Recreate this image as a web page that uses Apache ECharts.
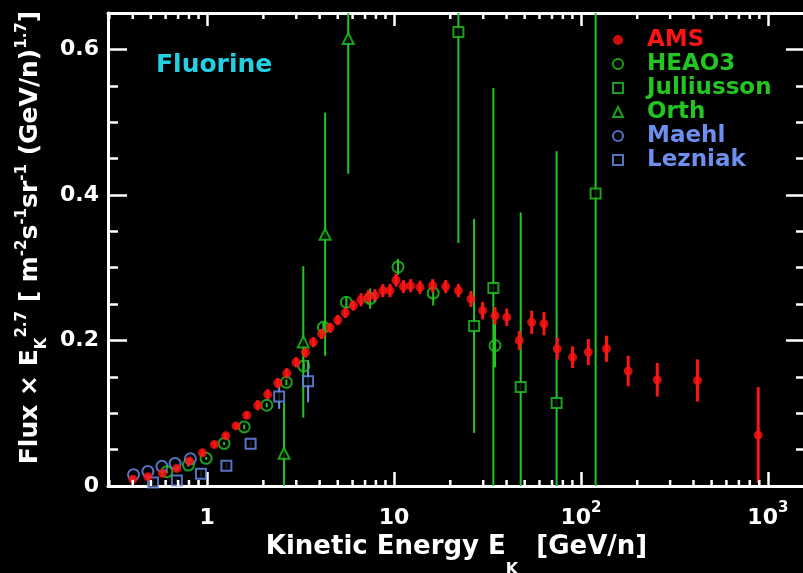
<!DOCTYPE html>
<html>
<head>
<meta charset="utf-8">
<script src="https://cdn.jsdelivr.net/npm/echarts@6/dist/echarts.min.js"></script>
<style>html,body{margin:0;padding:0;background:#000;}#c{width:803px;height:573px;}</style>
</head>
<body>
<div id="c"></div>
<script>
// ---- data (E in GeV/n, flux x E^2.7) ----
const amsE = [0.401,0.482,0.577,0.689,0.804,0.944,1.094,1.259,1.429,1.63,1.867,2.11,2.39,2.67,2.99,3.36,3.70,4.10,4.55,5.00,5.49,6.06,6.66,7.29,7.91,8.71,9.52,10.25,11.22,12.28,13.77,16.1,18.9,22.1,25.8,29.8,34.7,40.1,46.8,54.5,63.4,74.7,90.2,109.5,137,179,256,420,888];
const amsF = [0.0092,0.0127,0.0174,0.0242,0.0342,0.0456,0.0571,0.0689,0.0826,0.0973,0.111,0.126,0.1415,0.155,0.170,0.1836,0.1977,0.209,0.2174,0.228,0.238,0.248,0.256,0.2605,0.2616,0.2685,0.2685,0.283,0.274,0.2753,0.273,0.2753,0.274,0.2685,0.257,0.241,0.234,0.232,0.200,0.225,0.223,0.1886,0.177,0.184,0.1886,0.158,0.146,0.145,0.070];
const amsErr = [0.004,0.004,0.004,0.004,0.004,0.004,0.004,0.004,0.004,0.004,0.007,0.007,0.007,0.007,0.007,0.007,0.007,0.007,0.007,0.007,0.007,0.007,0.009,0.009,0.009,0.009,0.009,0.009,0.009,0.009,0.009,0.009,0.009,0.009,0.011,0.012,0.012,0.012,0.013,0.016,0.016,0.015,0.015,0.018,0.018,0.021,0.023,0.029,0.066];

const heaoE = [0.609,0.794,0.988,1.233,1.58,2.085,2.655,3.29,4.19,5.56,7.45,10.5,16.2,34.7];
const heaoF = [0.0196,0.0288,0.038,0.0585,0.0812,0.111,0.1425,0.165,0.218,0.2525,0.2575,0.301,0.265,0.193];
const heaoErr = [0.002,0.002,0.002,0.002,0.003,0.003,0.004,0.005,0.008,0.008,0.014,0.011,0.017,0.03];

const julE = [22.1,26.8,34.0,47.6,74.1,119.8];
const julF = [0.624,0.22,0.272,0.136,0.114,0.402];
const julErr = [0.29,0.147,0.275,0.24,0.346,0.5];

const orthE = [2.58,3.27,4.28,5.69];
const orthF = [0.045,0.198,0.346,0.615];
const orthErr = [0.07,0.104,0.167,0.186];

const maehlE = [0.404,0.482,0.573,0.674,0.814];
const maehlF = [0.0155,0.020,0.027,0.031,0.0374];

const lezE = [0.514,0.689,0.927,1.268,1.709,2.43,3.47];
const lezF = [0.0048,0.0075,0.0168,0.0278,0.058,0.123,0.144];
const lezErr = [0.003,0.003,0.006,0.004,0.004,0.017,0.029];

const xMinorTicks = [0.3,0.4,0.5,0.6,0.7,0.8,0.9,2,3,4,5,6,7,8,9,20,30,40,50,60,70,80,90,200,300,400,500,600,700,800,900];
const xTickLabels = {1:'{a|1}', 10:'{a|10}', 100:'{a|10}{s|2}', 1000:'{a|10}{s|3}'};
const yTickLabels = {0:'0', 0.2:'0.2', 0.4:'0.4', 0.6:'0.6'};

// ---- styling ----
const FONT = 'DejaVu Sans';
const GREEN = '#22c522';
const BLUE = '#6d8ff0';
const RED = '#ff1414';
const WHITE = '#ffffff';
const XMIN = 0.295, XMAX = 1580, YMAX = 0.65;

function errSeries(id, E, F, Er, color, w) {
  return {
    type: 'custom', name: id, coordinateSystem: 'cartesian2d', silent: true, z: 3,
    data: E.map((e, i) => [e, F[i], Er[i]]),
    encode: { x: 0, y: 1 },
    renderItem: function (params, api) {
      const x = api.value(0), y = api.value(1), er = api.value(2);
      const lo = Math.max(0, y - er), hi = Math.min(YMAX, y + er);
      const p1 = api.coord([x, lo]), p2 = api.coord([x, hi]);
      return { type: 'line', shape: { x1: p1[0], y1: p1[1], x2: p2[0], y2: p2[1] },
               style: { stroke: color, lineWidth: w } };
    }
  };
}

const minorTickSeries = {
  type: 'custom', name: 'minorTicks', coordinateSystem: 'cartesian2d', silent: true, z: 6,
  data: xMinorTicks.map(v => [v, 0]),
  encode: { x: 0, y: 1 },
  renderItem: function (params, api) {
    const v = api.value(0);
    const b = api.coord([v, 0]), t = api.coord([v, YMAX]);
    return { type: 'group', children: [
      { type: 'line', shape: { x1: b[0], y1: b[1], x2: b[0], y2: b[1] - 6 }, style: { stroke: WHITE, lineWidth: 2.5 } },
      { type: 'line', shape: { x1: t[0], y1: t[1], x2: t[0], y2: t[1] + 6 }, style: { stroke: WHITE, lineWidth: 2.5 } }
    ] };
  }
};

function yAx(pos, interval, len, labels, name) {
  const ax = {
    type: 'value', min: 0, max: YMAX, interval: interval, position: pos,
    axisLine: { show: true, onZero: false, lineStyle: { color: WHITE, width: 3 } },
    axisTick: { show: true, inside: true, length: len, lineStyle: { color: WHITE, width: 2.5 } },
    splitLine: { show: false },
    axisLabel: { show: false }
  };
  if (labels) {
    ax.axisLabel = {
      show: true, margin: 9, color: WHITE, fontFamily: FONT, fontWeight: 'bold', fontSize: 22,
      formatter: function (v) {
        for (const k in yTickLabels) { if (Math.abs(v - Number(k)) < 1e-6) return yTickLabels[k]; }
        return '';
      }
    };
  }
  if (name) {
    ax.name = '{t|Flux × E}{sb|K}{sp|2.7}{t| [ m}{sp|-2}{t|s}{sp|-1}{t|sr}{sp|-1}{t| (GeV/n)}{sp|1.7}{t|]}';
    ax.nameLocation = 'middle';
    ax.nameRotate = 90;
    ax.nameGap = 60;
    ax.nameTextStyle = {
      padding: [0, 0, 0, 24],
      rich: {
        t: { color: WHITE, fontFamily: FONT, fontWeight: 'bold', fontSize: 25, lineHeight: 27, padding: [4, 0, 0, 0], verticalAlign: 'top' },
        sp: { color: WHITE, fontFamily: FONT, fontWeight: 'bold', fontSize: 15, lineHeight: 15, verticalAlign: 'top' },
        sb: { color: WHITE, fontFamily: FONT, fontWeight: 'bold', fontSize: 15, lineHeight: 15, padding: [20, 0, 0, 0], verticalAlign: 'top' }
      }
    };
  }
  return ax;
}

const option = {
  backgroundColor: '#000',
  animation: false,
  grid: { left: 108, right: -2, top: 13, bottom: 87, containLabel: false, outerBoundsMode: 'none' },
  xAxis: [
    {
      type: 'log', logBase: 10, min: XMIN, max: XMAX, position: 'bottom',
      axisLine: { show: true, onZero: false, lineStyle: { color: WHITE, width: 3 } },
      axisTick: { show: true, inside: true, length: 14, lineStyle: { color: WHITE, width: 2.5 } },
      splitLine: { show: false }, minorTick: { show: false },
      axisLabel: {
        show: true, margin: 15,
        formatter: function (v) {
          for (const k in xTickLabels) { if (Math.abs(v / Number(k) - 1) < 1e-6) return xTickLabels[k]; }
          return '';
        },
        rich: {
          a: { color: WHITE, fontFamily: FONT, fontWeight: 'bold', fontSize: 22, lineHeight: 24, padding: [6, 0, 0, 0], verticalAlign: 'top' },
          s: { color: WHITE, fontFamily: FONT, fontWeight: 'bold', fontSize: 15, lineHeight: 15, verticalAlign: 'top' }
        }
      },
      name: '{t|Kinetic Energy E}{s|K}{t|  [GeV/n]}',
      nameLocation: 'middle', nameGap: 39,
      nameTextStyle: {
        rich: {
          t: { color: WHITE, fontFamily: FONT, fontWeight: 'bold', fontSize: 26, lineHeight: 28, verticalAlign: 'top' },
          s: { color: WHITE, fontFamily: FONT, fontWeight: 'bold', fontSize: 16, lineHeight: 16, padding: [28, 0, 0, 0], verticalAlign: 'top' }
        }
      }
    },
    {
      type: 'log', logBase: 10, min: XMIN, max: XMAX, position: 'top',
      axisLine: { show: true, onZero: false, lineStyle: { color: WHITE, width: 3 } },
      axisTick: { show: true, inside: true, length: 13, lineStyle: { color: WHITE, width: 2.5 } },
      splitLine: { show: false }, axisLabel: { show: false }
    }
  ],
  yAxis: [
    yAx('left', 0.2, 19, true, true),
    yAx('left', 0.05, 10, false, false),
    yAx('right', 0.2, 19, false, false),
    yAx('right', 0.05, 9, false, false)
  ],
  legend: {
    orient: 'vertical', left: 612, top: 28, padding: 0, itemGap: 0,
    itemWidth: 10, itemHeight: 10, symbolKeepAspect: true,
    textStyle: { fontFamily: FONT, fontWeight: 'bold', fontSize: 23, lineHeight: 24, padding: [0, 0, 0, 19] },
    data: [
      { name: 'AMS', textStyle: { color: RED } },
      { name: 'HEAO3', textStyle: { color: GREEN } },
      { name: 'Julliusson', textStyle: { color: GREEN } },
      { name: 'Orth', textStyle: { color: GREEN } },
      { name: 'Maehl', textStyle: { color: BLUE } },
      { name: 'Lezniak', textStyle: { color: BLUE } }
    ],
    selectedMode: false
  },
  graphic: [
    { type: 'text', left: 156, top: 53, style: { text: 'Fluorine', fill: '#22d0e2', font: 'bold 25px "DejaVu Sans"' } }
  ],
  series: [
    minorTickSeries,
    errSeries('jul_err', julE, julF, julErr, GREEN, 2),
    errSeries('orth_err', orthE, orthF, orthErr, GREEN, 2),
    errSeries('heao_err', heaoE, heaoF, heaoErr, GREEN, 2),
    errSeries('lez_err', lezE, lezF, lezErr, BLUE, 2),
    errSeries('ams_err', amsE, amsF, amsErr, RED, 3),
    { type: 'scatter', name: 'Julliusson', z: 4, symbol: 'rect', symbolSize: 10,
      itemStyle: { color: '#000', borderColor: GREEN, borderWidth: 2 },
      data: julE.map((e, i) => [e, julF[i]]) },
    { type: 'scatter', name: 'Orth', z: 4, symbol: 'triangle', symbolSize: 11,
      itemStyle: { color: '#000', borderColor: GREEN, borderWidth: 2 },
      data: orthE.map((e, i) => [e, orthF[i]]) },
    { type: 'scatter', name: 'Lezniak', z: 4, symbol: 'rect', symbolSize: 10,
      itemStyle: { color: '#000', borderColor: BLUE, borderWidth: 2 },
      data: lezE.map((e, i) => [e, lezF[i]]) },
    { type: 'scatter', name: 'Maehl', z: 4, symbol: 'circle', symbolSize: 11,
      itemStyle: { color: 'rgba(0,0,0,0)', borderColor: BLUE, borderWidth: 2 },
      data: maehlE.map((e, i) => [e, maehlF[i]]) },
    { type: 'scatter', name: 'HEAO3', z: 4, symbol: 'circle', symbolSize: 11,
      itemStyle: { color: 'rgba(0,0,0,0)', borderColor: GREEN, borderWidth: 2 },
      data: heaoE.map((e, i) => [e, heaoF[i]]) },
    { type: 'scatter', name: 'AMS', z: 5, symbol: 'circle', symbolSize: 9,
      itemStyle: { color: RED },
      data: amsE.map((e, i) => [e, amsF[i]]) }
  ]
};

const chart = echarts.init(document.getElementById('c'), null, { renderer: 'canvas' });
chart.setOption(option);
</script>
</body>
</html>
